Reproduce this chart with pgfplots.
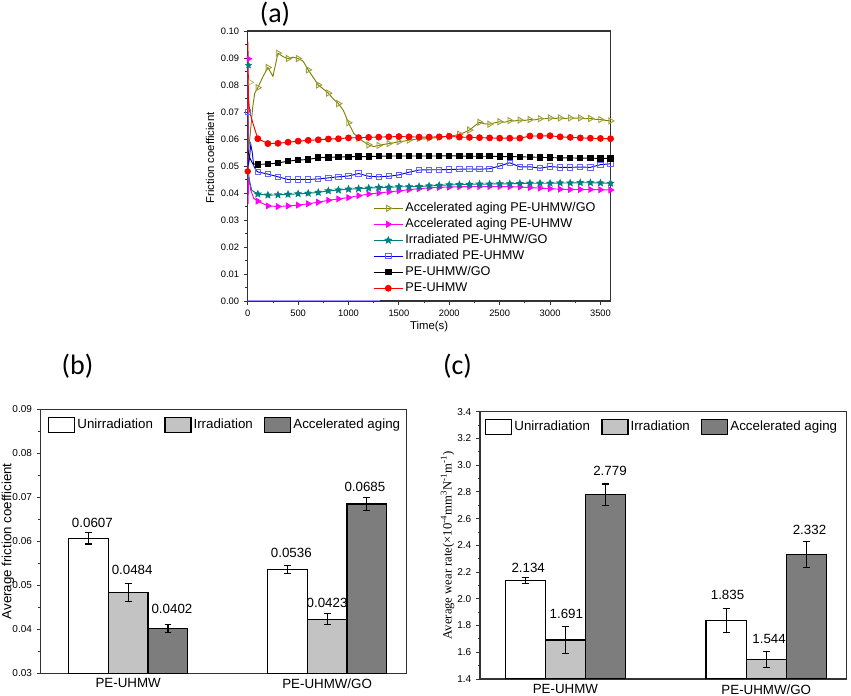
\documentclass[border=0pt]{standalone}
\usepackage{fontspec}
\setmainfont{Liberation Sans}
\newfontfamily\timesf{Liberation Serif}
\newfontfamily\calib{Carlito}
\usepackage{pgfplots}
\pgfplotsset{compat=1.18}
\definecolor{olivec}{RGB}{128,128,0}
\definecolor{olivem}{RGB}{160,160,60}
\definecolor{magc}{RGB}{255,0,255}
\definecolor{tealc}{RGB}{0,128,128}
\definecolor{bluec}{RGB}{0,0,230}
\definecolor{bluem}{RGB}{100,100,255}
\definecolor{bluez}{RGB}{150,150,255}
\definecolor{redc}{RGB}{255,0,0}
\definecolor{lgray}{RGB}{195,195,195}
\definecolor{dgray}{RGB}{125,125,125}
\pgfdeclareplotmark{fstar}{%
  \pgfpathmoveto{\pgfpointpolar{90}{\pgfplotmarksize}}%
  \pgfpathlineto{\pgfpointpolar{126}{0.45\pgfplotmarksize}}%
  \pgfpathlineto{\pgfpointpolar{162}{\pgfplotmarksize}}%
  \pgfpathlineto{\pgfpointpolar{198}{0.45\pgfplotmarksize}}%
  \pgfpathlineto{\pgfpointpolar{234}{\pgfplotmarksize}}%
  \pgfpathlineto{\pgfpointpolar{270}{0.45\pgfplotmarksize}}%
  \pgfpathlineto{\pgfpointpolar{306}{\pgfplotmarksize}}%
  \pgfpathlineto{\pgfpointpolar{342}{0.45\pgfplotmarksize}}%
  \pgfpathlineto{\pgfpointpolar{18}{\pgfplotmarksize}}%
  \pgfpathlineto{\pgfpointpolar{54}{0.45\pgfplotmarksize}}%
  \pgfpathclose\pgfusepathqfillstroke}
\pgfplotsset{
  orig/.style={
    scale only axis, anchor=south west,
    axis line style={black!80, line width=0.8pt},
    tick align=outside, tick pos=left,
    major tick length=3pt, minor tick length=1.8pt,
    every tick/.append style={black!80, line width=0.6pt},
    /pgf/number format/assume math mode=true,
  },
  ebar/.style={error bars/.cd, y dir=both, y explicit,
    error bar style={line width=0.8pt, black},
    error mark options={rotate=90, mark size=2.6pt, line width=0.8pt, black}},
  barleg/.style={
    legend columns=3, legend cell align=left,
    legend style={anchor=north west, draw=none, fill=none, inner sep=0pt,
      font=\fontsize{10}{12}\selectfont,
      nodes={text height=7.5pt, text depth=2.5pt, inner sep=1.5pt},
      /tikz/every even column/.append style={column sep=7pt}},
    legend image code/.code={\draw[#1] (0pt,-5.6pt) rectangle (19.5pt,5.6pt);},
  },
}
\begin{document}
\begin{tikzpicture}
\path[use as bounding box] (0,0) rectangle (638.25pt,522pt);
\node[font=\calib\fontsize{21}{24}\selectfont] at (206.25pt,511.5pt) {(a)};
\node[font=\calib\fontsize{21}{24}\selectfont] at (58.1pt,247pt) {(b)};
\node[font=\calib\fontsize{21}{24}\selectfont] at (343.1pt,247pt) {(c)};

% ---------------- (a) ----------------
\begin{axis}[orig, at={(185.8pt,296.25pt)}, width=272.1pt, height=202.5pt,
  xmin=0, xmax=3600, ymin=0, ymax=0.1,
  xtick={0,500,1000,1500,2000,2500,3000,3500}, minor x tick num=1,
  ytick={0,0.01,0.02,0.03,0.04,0.05,0.06,0.07,0.08,0.09,0.1}, minor y tick num=1,
  scaled y ticks=false, scaled x ticks=false,
  xticklabel style={font=\fontsize{7}{8}\selectfont, /pgf/number format/1000 sep={}},
  yticklabel style={font=\fontsize{7}{8}\selectfont, /pgf/number format/fixed, /pgf/number format/fixed zerofill, /pgf/number format/precision=2},
  xlabel={Time(s)}, ylabel={Friction coefficient},
  xlabel style={at={(axis description cs:0.5,-0.093)}, anchor=center, font=\fontsize{8.5}{10}\selectfont},
  ylabel style={at={(axis description cs:-0.104,0.53)}, anchor=center, font=\fontsize{8.5}{10}\selectfont},
  legend cell align=left,
  legend style={at={(axis description cs:0.345,0.374)}, anchor=north west, draw=none, fill=none, inner sep=0pt,
    font=\fontsize{9.5}{11}\selectfont, nodes={text height=7pt, text depth=2pt, inner sep=1.5pt}},
  legend image code/.code={\draw[mark repeat=2,mark phase=2,#1] plot coordinates {(0pt,0pt) (11pt,0pt) (22pt,0pt)};},
]
\addlegendimage{olivec, line width=0.7pt, mark=triangle, mark size=2.6pt, mark options={rotate=-90, draw=olivem, solid}}
\addlegendentry{Accelerated aging PE-UHMW/GO}
\addlegendimage{magc, line width=0.7pt, mark=triangle*, mark size=2.4pt, mark options={rotate=-90, solid}}
\addlegendentry{Accelerated aging PE-UHMW}
\addlegendimage{tealc, line width=0.7pt, mark=fstar, mark size=2.4pt, mark options={solid}}
\addlegendentry{Irradiated PE-UHMW/GO}
\addlegendimage{bluec, line width=0.7pt, mark=square, mark size=2pt, mark options={draw=bluem, solid}}
\addlegendentry{Irradiated PE-UHMW}
\addlegendimage{black, line width=0.7pt, mark=square*, mark size=2pt, mark options={solid}}
\addlegendentry{PE-UHMW/GO}
\addlegendimage{redc, line width=0.7pt, mark=*, mark size=2.2pt, mark options={solid}}
\addlegendentry{PE-UHMW}

\addplot[forget plot, bluez, line width=1pt] coordinates {(0,0.0002) (1310,0.0002)};

% olive
\addplot[forget plot, olivec, line width=0.7pt] coordinates {(0,0.050) (15,0.058) (30,0.064) (50,0.072) (70,0.077) (100,0.079)};
\addplot[forget plot, only marks, mark=triangle, mark size=2.6pt, mark options={rotate=-90, draw=olivem}] coordinates {(25,0.081)};
\addplot[forget plot, olivec, line width=0.7pt, mark=triangle, mark size=2.6pt, mark repeat=2, mark phase=1, mark options={rotate=-90, draw=olivem, solid}] coordinates {
(100,0.0790) (150,0.0830) (200,0.0865) (250,0.0832) (300,0.0918) (350,0.0905) (400,0.0898) (450,0.0903)
(500,0.0898) (550,0.0888) (600,0.0856) (650,0.0828) (700,0.0800) (750,0.0785) (800,0.0770) (850,0.0748)
(900,0.0731) (950,0.0705) (1000,0.0660) (1050,0.0622) (1100,0.0603) (1150,0.0590) (1200,0.0578) (1250,0.0572)
(1300,0.0576) (1350,0.0580) (1400,0.0583) (1450,0.0586) (1500,0.0590) (1550,0.0592) (1600,0.0596) (1650,0.0598)
(1700,0.0602) (1750,0.0600) (1800,0.0603) (1850,0.0604) (1900,0.0606) (1950,0.0608) (2000,0.0610) (2050,0.0613)
(2100,0.0618) (2150,0.0624) (2200,0.0633) (2250,0.0648) (2300,0.0662) (2350,0.0656) (2400,0.0655) (2450,0.0660)
(2500,0.0664) (2550,0.0662) (2600,0.0668) (2650,0.0667) (2700,0.0670) (2750,0.0669) (2800,0.0672) (2850,0.0671)
(2900,0.0675) (2950,0.0675) (3000,0.0678) (3050,0.0676) (3100,0.0678) (3150,0.0676) (3200,0.0678) (3250,0.0677)
(3300,0.0678) (3350,0.0675) (3400,0.0676) (3450,0.0673) (3500,0.0672) (3550,0.0669) (3600,0.0667)};

% magenta
\addplot[forget plot, magc, line width=0.7pt] coordinates {(0,0.0895) (3,0.036) (10,0.046) (30,0.041) (60,0.038) (100,0.037)};
\addplot[forget plot, only marks, mark=triangle*, mark size=2.4pt, mark options={rotate=-90}, magc] coordinates {(10,0.0897)};
\addplot[forget plot, magc, line width=0.7pt, mark=triangle*, mark size=2.4pt, mark options={rotate=-90, solid}] coordinates {
(100,0.0370) (200,0.0352) (300,0.0350) (400,0.0352) (500,0.0355) (600,0.0360) (700,0.0366) (800,0.0373)
(900,0.0378) (1000,0.0383) (1100,0.0390) (1200,0.0396) (1300,0.0400) (1400,0.0404) (1500,0.0408) (1600,0.0412)
(1700,0.0416) (1800,0.0419) (1900,0.0421) (2000,0.0422) (2100,0.0423) (2200,0.0424) (2300,0.0424) (2400,0.0424)
(2500,0.0424) (2600,0.0423) (2700,0.0422) (2800,0.0420) (2900,0.0418) (3000,0.0416) (3100,0.0414) (3200,0.0413)
(3300,0.0413) (3400,0.0413) (3500,0.0412) (3600,0.0411)};

% teal
\addplot[forget plot, tealc, line width=0.7pt] coordinates {(0,0.087) (3,0.050) (15,0.045) (40,0.041) (100,0.0396)};
\addplot[forget plot, only marks, mark=fstar, mark size=2.4pt, tealc] coordinates {(8,0.0873)};
\addplot[forget plot, tealc, line width=0.7pt, mark=fstar, mark size=2.4pt, mark options={solid}] coordinates {
(100,0.0396) (200,0.0392) (300,0.0393) (400,0.0395) (500,0.0397) (600,0.0399) (700,0.0402) (800,0.0408)
(900,0.0411) (1000,0.0414) (1100,0.0416) (1200,0.0418) (1300,0.0420) (1400,0.0421) (1500,0.0423) (1600,0.0423)
(1700,0.0424) (1800,0.0426) (1900,0.0428) (2000,0.0430) (2100,0.0431) (2200,0.0432) (2300,0.0433) (2400,0.0433)
(2500,0.0434) (2600,0.0434) (2700,0.0435) (2800,0.0436) (2900,0.0436) (3000,0.0436) (3100,0.0437) (3200,0.0437)
(3300,0.0438) (3400,0.0438) (3500,0.0437) (3600,0.0436)};

% blue
\addplot[forget plot, bluec, line width=0.7pt] coordinates {(0,0.070) (3,0.050) (15,0.052) (30,0.058) (45,0.055) (60,0.050) (80,0.0485) (100,0.0478)};
\addplot[forget plot, only marks, mark=square, mark size=2pt, bluem] coordinates {(3,0.070)};
\addplot[forget plot, bluec, line width=0.7pt, mark=square, mark size=2pt, mark options={draw=bluem, solid}] coordinates {
(100,0.0478) (200,0.0470) (300,0.0460) (400,0.0450) (500,0.0450) (600,0.0450) (700,0.0452) (800,0.0456)
(900,0.0460) (1000,0.0463) (1100,0.0472) (1200,0.0462) (1300,0.0460) (1400,0.0462) (1500,0.0467) (1600,0.0477)
(1700,0.0485) (1800,0.0486) (1900,0.0486) (2000,0.0487) (2100,0.0488) (2200,0.0489) (2300,0.0488) (2400,0.0490)
(2500,0.0500) (2600,0.0512) (2700,0.0497) (2800,0.0497) (2900,0.0492) (3000,0.0498) (3100,0.0495) (3200,0.0495)
(3300,0.0496) (3400,0.0495) (3500,0.0505) (3600,0.0508)};

% black
\addplot[forget plot, black, line width=0.7pt] coordinates {(0,0.056) (20,0.053) (50,0.0508) (100,0.0506)};
\addplot[forget plot, black, line width=0.7pt, mark=square*, mark size=2pt, mark options={solid}] coordinates {
(100,0.0506) (200,0.0507) (300,0.0511) (400,0.0518) (500,0.0522) (600,0.0524) (700,0.0531) (800,0.0532)
(900,0.0533) (1000,0.0534) (1100,0.0535) (1200,0.0535) (1300,0.0536) (1400,0.0537) (1500,0.0537) (1600,0.0537)
(1700,0.0537) (1800,0.0537) (1900,0.0537) (2000,0.0538) (2100,0.0537) (2200,0.0536) (2300,0.0536) (2400,0.0536)
(2500,0.0535) (2600,0.0535) (2700,0.0534) (2800,0.0533) (2900,0.0532) (3000,0.0531) (3100,0.0530) (3200,0.0530)
(3300,0.0529) (3400,0.0529) (3500,0.0528) (3600,0.0528)};

% red
\addplot[forget plot, redc, line width=0.7pt] coordinates {(0,0.048) (2,0.096) (8,0.075) (20,0.070) (50,0.066) (100,0.0601)};
\addplot[forget plot, only marks, mark=*, mark size=2.2pt, redc] coordinates {(0,0.048)};
\addplot[forget plot, redc, line width=0.7pt, mark=*, mark size=2.2pt, mark options={solid}] coordinates {
(100,0.0601) (200,0.0583) (300,0.0584) (400,0.0588) (500,0.0592) (600,0.0595) (700,0.0597) (800,0.0600)
(900,0.0601) (1000,0.0604) (1100,0.0605) (1200,0.0606) (1300,0.0607) (1400,0.0608) (1500,0.0609) (1600,0.0608)
(1700,0.0607) (1800,0.0607) (1900,0.0608) (2000,0.0610) (2100,0.0607) (2200,0.0606) (2300,0.0605) (2400,0.0604)
(2500,0.0603) (2600,0.0603) (2700,0.0603) (2800,0.0611) (2900,0.0611) (3000,0.0612) (3100,0.0608) (3200,0.0606)
(3300,0.0604) (3400,0.0603) (3500,0.0602) (3600,0.0601)};
\end{axis}

% ---------------- (b) ----------------
\begin{axis}[orig, barleg, at={(30.5pt,17pt)}, width=274.5pt, height=198pt,
  xmin=0.56, xmax=2.4, ymin=0.03, ymax=0.09,
  xtick={1,2}, xticklabels={PE-UHMW,PE-UHMW/GO}, xtick style={draw=none},
  xticklabel style={font=\fontsize{10}{12}\selectfont, yshift=2.5pt},
  ytick={0.03,0.04,0.05,0.06,0.07,0.08,0.09}, minor y tick num=1, scaled y ticks=false,
  yticklabel style={font=\fontsize{7.5}{9}\selectfont, /pgf/number format/fixed, /pgf/number format/fixed zerofill, /pgf/number format/precision=2},
  ylabel={Average friction coefficient},
  ylabel style={at={(axis description cs:-0.0893,0.5)}, anchor=center, font=\fontsize{10}{12}\selectfont},
  legend style={at={(axis description cs:0.02,0.975)}},
]
\addplot[ybar, bar width=0.2, bar shift=0, fill=white, draw=black, line width=0.9pt, ebar]
  coordinates {(0.8,0.0607) +- (0,0.0013) (1.8,0.0536) +- (0,0.0010)};
\addlegendentry{Unirradiation}
\addplot[ybar, bar width=0.2, bar shift=0, fill=lgray, draw=black, line width=0.9pt, ebar]
  coordinates {(1.0,0.0484) +- (0,0.0020) (2.0,0.0423) +- (0,0.0012)};
\addlegendentry{Irradiation}
\addplot[ybar, bar width=0.2, bar shift=0, fill=dgray, draw=black, line width=0.9pt, ebar]
  coordinates {(1.2,0.0402) +- (0,0.0010) (2.2,0.0685) +- (0,0.0014)};
\addlegendentry{Accelerated aging}
\begin{scope}[every node/.style={font=\fontsize{10}{12}\selectfont}]
\node at (axis cs:0.82,0.0642) {0.0607};
\node at (axis cs:1.02,0.0535) {0.0484};
\node at (axis cs:1.22,0.04455) {0.0402};
\node at (axis cs:1.82,0.0573) {0.0536};
\node at (axis cs:2.0,0.0461) {0.0423};
\node at (axis cs:2.19,0.0723) {0.0685};
\end{scope}
\end{axis}

% ---------------- (c) ----------------
\begin{axis}[orig, barleg, at={(360pt,12.75pt)}, width=275pt, height=200.5pt,
  xmin=0.575, xmax=2.4, ymin=1.4, ymax=3.4,
  xtick={1,2}, xticklabels={PE-UHMW,PE-UHMW/GO}, xtick style={draw=none},
  xticklabel style={font=\fontsize{10}{12}\selectfont, yshift=2.5pt},
  ytick={1.4,1.6,1.8,2.0,2.2,2.4,2.6,2.8,3.0,3.2,3.4}, minor y tick num=1,
  yticklabel style={font=\fontsize{7.5}{9}\selectfont, /pgf/number format/fixed, /pgf/number format/fixed zerofill, /pgf/number format/precision=1},
  ylabel={Average wear rate(×10\textsuperscript{-4}mm\textsuperscript{3}N\textsuperscript{-1}m\textsuperscript{-1})},
  ylabel style={at={(axis description cs:-0.0886,0.5)}, anchor=center, font=\timesf\fontsize{9.5}{11}\selectfont},
  legend style={at={(axis description cs:0.0136,0.976)}},
]
\addplot[ybar, bar width=0.2, bar shift=0, fill=white, draw=black, line width=0.9pt, ebar]
  coordinates {(0.8,2.134) +- (0,0.022) (1.8,1.835) +- (0,0.090)};
\addlegendentry{Unirradiation}
\addplot[ybar, bar width=0.2, bar shift=0, fill=lgray, draw=black, line width=0.9pt, ebar]
  coordinates {(1.0,1.691) +- (0,0.100) (2.0,1.544) +- (0,0.060)};
\addlegendentry{Irradiation}
\addplot[ybar, bar width=0.2, bar shift=0, fill=dgray, draw=black, line width=0.9pt, ebar]
  coordinates {(1.2,2.779) +- (0,0.080) (2.2,2.332) +- (0,0.100)};
\addlegendentry{Accelerated aging}
\begin{scope}[every node/.style={font=\fontsize{10}{12}\selectfont}]
\node at (axis cs:0.815,2.233) {2.134};
\node at (axis cs:1.005,1.886) {1.691};
\node at (axis cs:1.222,2.959) {2.779};
\node at (axis cs:1.807,2.031) {1.835};
\node at (axis cs:2.014,1.702) {1.544};
\node at (axis cs:2.215,2.515) {2.332};
\end{scope}
\end{axis}
\end{tikzpicture}
\end{document}
